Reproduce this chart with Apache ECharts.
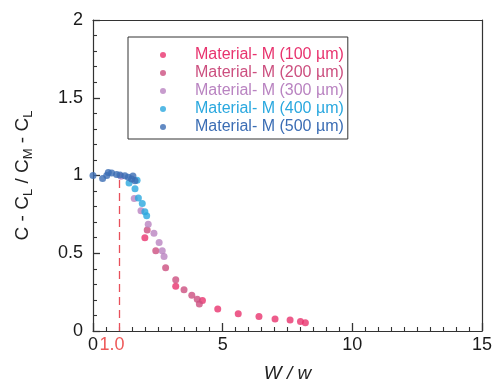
<!DOCTYPE html>
<html>
<head>
<meta charset="utf-8">
<script src="https://cdn.jsdelivr.net/npm/echarts@6/dist/echarts.min.js"></script>
<style>
  html, body { margin: 0; padding: 0; background: #fff; }
  #chart { width: 501px; height: 388px; }
</style>
</head>
<body>
<div id="chart"></div>
<script>
// Normalized concentration vs. width ratio W / w, one series per thickness
const seriesNames = [
  'Material- M (100 \u00b5m)',
  'Material- M (200 \u00b5m)',
  'Material- M (300 \u00b5m)',
  'Material- M (400 \u00b5m)',
  'Material- M (500 \u00b5m)'
];
const seriesColors = ['#e8336e', '#cc4f7f', '#b983c1', '#2aa8df', '#3b6db4'];

const m100 = [[2.0, 0.60], [3.19, 0.288], [4.22, 0.196], [4.81, 0.142], [5.60, 0.111],
  [6.40, 0.094], [7.02, 0.077], [7.60, 0.070], [8.00, 0.061], [8.19, 0.053]];
const m200 = [[2.09, 0.65], [2.42, 0.516], [2.80, 0.407], [3.19, 0.330], [3.51, 0.266],
  [3.81, 0.230], [4.02, 0.204], [4.10, 0.173]];
const m300 = [[1.08, 0.995], [1.59, 0.852], [1.85, 0.773], [2.13, 0.686], [2.35, 0.628],
  [2.55, 0.569], [2.67, 0.516], [2.74, 0.479]];
const m400 = [[1.39, 0.952], [1.62, 0.914], [1.70, 0.97], [1.75, 0.856], [1.90, 0.82],
  [2.0, 0.767], [2.07, 0.741]];
const m500 = [[0, 1.0], [0.37, 0.98], [0.53, 1.0], [0.59, 1.02], [0.72, 1.016],
  [0.91, 1.006], [1.04, 1.003], [1.23, 0.999], [1.36, 0.989], [1.49, 0.978],
  [1.54, 0.997], [1.62, 0.967]];
const allData = [m100, m200, m300, m400, m500];

// Threshold marker at W / w = 1.0
const thresholdX = 1.0;
const thresholdY = 1.0;

// Axis ranges and label steps
const xTicks = [0, 5, 10, 15];
const yTicks = [0, 0.5, 1, 1.5, 2];

const FONT = 'Liberation Sans, Arial, sans-serif';
const AXIS_COLOR = '#333';
const chart = echarts.init(document.getElementById('chart'));

const scatterSeries = seriesNames.map((name, i) => ({
  name: name,
  type: 'scatter',
  data: allData[i],
  symbol: 'circle',
  symbolSize: 7,
  itemStyle: { color: seriesColors[i] },
  z: 2 + i
}));

scatterSeries[0].markLine = {
  silent: true,
  symbol: 'none',
  lineStyle: { color: '#e8505b', type: [8, 5], width: 1.3 },
  label: {
    show: true,
    position: 'start',
    formatter: thresholdX.toFixed(1),
    color: '#ee5a5a',
    fontSize: 18,
    fontFamily: FONT,
    distance: 5,
    offset: [-7, 0]
  },
  data: [[{ coord: [thresholdX, 0] }, { coord: [thresholdX, thresholdY] }]]
};

// Frame axes (top / right) that only draw the box edge
const frameAxis = {
  type: 'value',
  axisLine: { show: true, onZero: false, lineStyle: { color: AXIS_COLOR, width: 1.2 } },
  axisTick: { show: false },
  axisLabel: { show: false },
  splitLine: { show: false }
};

chart.setOption({
  animation: false,
  backgroundColor: '#fff',
  textStyle: { fontFamily: FONT },
  grid: { left: 93, right: 19, top: 20, bottom: 55 },
  legend: {
    orient: 'vertical',
    left: 128, top: 37,
    padding: [10, 4, 4, 32],
    borderColor: AXIS_COLOR, borderWidth: 1,
    itemWidth: 54, itemHeight: 6, itemGap: 2,
    icon: 'circle',
    textStyle: { fontSize: 16, lineHeight: 16, fontFamily: FONT },
    data: seriesNames.map((n, i) => ({ name: n, textStyle: { color: seriesColors[i] } }))
  },
  xAxis: [{
    type: 'value',
    position: 'bottom',
    min: xTicks[0], max: xTicks[xTicks.length - 1], interval: 5,
    name: 'W / w',
    nameLocation: 'middle',
    nameGap: 33,
    nameTextStyle: { fontSize: 19, fontStyle: 'italic', color: '#222' },
    axisLine: { show: true, onZero: false, lineStyle: { color: AXIS_COLOR, width: 1.2 } },
    axisTick: { show: true, inside: true, length: 8, lineStyle: { color: AXIS_COLOR, width: 1.3 } },
    minorTick: { show: true, splitNumber: 10, length: 4, lineStyle: { color: AXIS_COLOR, width: 1.1 } },
    splitLine: { show: false },
    axisLabel: { show: true, fontSize: 18, color: '#1a1a1a', margin: 5 }
  }, Object.assign({ position: 'top', min: xTicks[0], max: xTicks[xTicks.length - 1] }, frameAxis)],
  yAxis: [{
    type: 'value',
    position: 'left',
    min: yTicks[0], max: yTicks[yTicks.length - 1], interval: 0.5,
    name: 'C - C{s|L} / C{s|M} - C{s|L}',
    nameLocation: 'middle',
    nameGap: 58,
    nameRotate: 90,
    nameTextStyle: {
      fontSize: 19, color: '#222', lineHeight: 24,
      rich: { s: { fontSize: 13, color: '#222', verticalAlign: 'bottom', lineHeight: 24, padding: [8, 0, 0, 0] } }
    },
    axisLine: { show: true, onZero: false, lineStyle: { color: AXIS_COLOR, width: 1.2 } },
    axisTick: { show: true, inside: true, length: 7, lineStyle: { color: AXIS_COLOR, width: 1.3 } },
    minorTick: { show: true, splitNumber: 5, length: 4, lineStyle: { color: AXIS_COLOR, width: 1.1 } },
    splitLine: { show: false },
    axisLabel: { show: true, fontSize: 18, color: '#1a1a1a', margin: 10, formatter: v => String(v) }
  }, Object.assign({ position: 'right', min: yTicks[0], max: yTicks[yTicks.length - 1] }, frameAxis)],
  series: scatterSeries
});
</script>
</body>
</html>
